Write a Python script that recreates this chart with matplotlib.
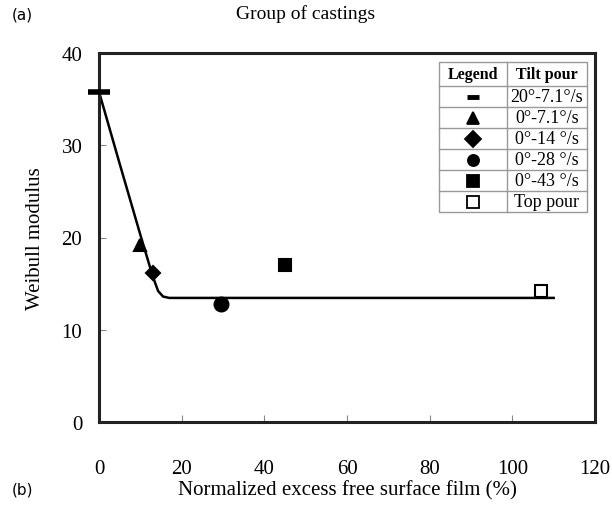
import matplotlib
matplotlib.use("Agg")
import matplotlib.pyplot as plt
from matplotlib.lines import Line2D
from matplotlib.patches import Rectangle

plt.rcParams['font.family'] = ['Liberation Serif', 'DejaVu Serif']

# measured points
pour_labels = ['20°-7.1°/s', '0°-7.1°/s', '0°-14 °/s', '0°-28 °/s', '0°-43 °/s', 'Top pour']
pour_x = [0.0, 9.9, 13.1, 29.5, 45.0, 107.0]
pour_y = [35.8, 19.2, 16.1, 12.8, 17.0, 14.2]
pour_markers = ['_', '^', 'D', 'o', 's', 's']
pour_faces = ['k', 'k', 'k', 'k', 'k', 'white']
pour_sizes = [16, 9, 7, 10, 9, 9]

# trend line
fit_x = [0, 5, 10, 13, 14.3, 15.5, 17, 110]
fit_y = [35.8, 28.0, 20.3, 15.8, 14.2, 13.6, 13.45, 13.45]

fig = plt.figure(figsize=(6.12, 5.06), dpi=100)
ax = fig.add_axes([99 / 612, 1 - 423 / 506, 496 / 612, 369 / 506])

ax.plot(fit_x, fit_y, color='k', linewidth=1.8, zorder=2)
for x, y, m, fc, ms in zip(pour_x, pour_y, pour_markers, pour_faces, pour_sizes):
    if m == '_':
        ax.plot(x, y, marker=m, color='k', markersize=ms, markeredgewidth=4,
                zorder=3, clip_on=False)
    else:
        ax.plot(x, y, marker=m, markerfacecolor=fc, markeredgecolor='k',
                markersize=ms, markeredgewidth=1.5, linestyle='none', zorder=3)

ax.set_xlim(0, 120)
ax.set_ylim(0, 40)
ax.set_xticks(range(0, 121, 20))
ax.set_yticks(range(0, 41, 10))
ax.tick_params(direction='in', length=5, width=0.8, color='#888888', labelsize=15)
ax.tick_params(axis='x', pad=27)
ax.tick_params(axis='y', pad=12)
for s in ax.spines.values():
    s.set_linewidth(2.2)
    s.set_color('#222222')

ax.set_xlabel('Normalized excess free surface film (%)', fontsize=15, labelpad=1)
ax.set_ylabel('Weibull modulus', fontsize=15, labelpad=12)

fig.text(0.5, 1 - 14 / 506, 'Group of castings', ha='center', va='center', fontsize=14)
fig.text(12 / 612, 1 - 15 / 506, '(a)', fontsize=11, family='DejaVu Sans', va='center')
fig.text(12 / 612, 1 - 490 / 506, '(b)', fontsize=11, family='DejaVu Sans', va='center')

# legend table drawn in pixel coords
W, H = 612.0, 506.0
tx0, tx1, tsplit = 439, 587, 507
rows = [63, 87, 108, 129, 150, 171, 192, 213]


def fx(px):
    return px / W


def fy(py):
    return 1 - py / H


fig.patches.append(Rectangle((fx(tx0), fy(rows[-1])), fx(tx1) - fx(tx0),
                             fy(rows[0]) - fy(rows[-1]), transform=fig.transFigure,
                             facecolor='white', edgecolor='#999999', linewidth=1, zorder=5))
for r in rows[1:-1]:
    fig.lines.append(Line2D([fx(tx0), fx(tx1)], [fy(r), fy(r)], transform=fig.transFigure,
                            color='#999999', linewidth=1, zorder=6))
fig.lines.append(Line2D([fx(tsplit), fx(tsplit)], [fy(rows[0]), fy(rows[-1])],
                        transform=fig.transFigure, color='#999999', linewidth=1, zorder=6))

cx_left = (tx0 + tsplit) / 2
cx_right = (tsplit + tx1) / 2
hy = (rows[0] + rows[1]) / 2
fig.text(fx(cx_left), fy(hy), 'Legend', ha='center', va='center', fontsize=11.5,
         fontweight='bold', zorder=7)
fig.text(fx(cx_right), fy(hy), 'Tilt pour', ha='center', va='center', fontsize=11.5,
         fontweight='bold', zorder=7)
for i, lab in enumerate(pour_labels):
    ry = (rows[i + 1] + rows[i + 2]) / 2
    fig.text(fx(cx_right), fy(ry), lab, ha='center', va='center', fontsize=13, zorder=7)
    m = pour_markers[i]
    if m == '_':
        mk = Line2D([fx(cx_left)], [fy(ry)], marker=m, color='k', markersize=9,
                    markeredgewidth=3.5, transform=fig.transFigure, zorder=7)
    else:
        mk = Line2D([fx(cx_left)], [fy(ry)], marker=m, markerfacecolor=pour_faces[i],
                    markeredgecolor='k', markersize=8, markeredgewidth=1.3,
                    linestyle='none', transform=fig.transFigure, zorder=7)
    fig.lines.append(mk)

fig.savefig('out.png', dpi=100)
